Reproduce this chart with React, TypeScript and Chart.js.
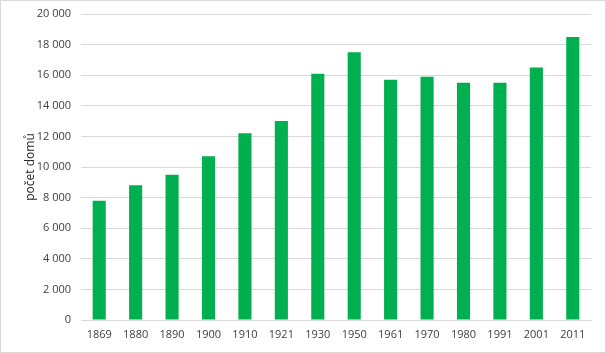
import React, { useEffect, useRef } from "react";
import { Chart, registerables } from "chart.js";

Chart.register(...registerables);

const categories = ["1869", "1880", "1890", "1900", "1910", "1921", "1930", "1950", "1961", "1970", "1980", "1991", "2001", "2011"];
const houses = [7800, 8800, 9500, 10700, 12200, 13000, 16100, 17500, 15700, 15900, 15500, 15500, 16500, 18500];
const yAxisTitle = "počet domů";

const fmt = (v: number) => String(v).replace(/\B(?=(\d{3})+(?!\d))/g, " ");

export default function App() {
  const ref = useRef<HTMLCanvasElement | null>(null);
  useEffect(() => {
    document.body.style.margin = "0";
    const ctx = ref.current!.getContext("2d")!;
    const font = { family: "'Open Sans', 'Noto Sans', sans-serif", size: 11 };
    const chart = new Chart(ctx, {
      type: "bar",
      data: {
        labels: categories,
        datasets: [
          {
            data: houses,
            backgroundColor: "#00b050",
            borderWidth: 0,
            categoryPercentage: 1,
            barPercentage: 0.36,
          },
        ],
      },
      options: {
        animation: false,
        responsive: false,
        maintainAspectRatio: false,
        layout: { padding: { left: 0, right: 14, top: 13, bottom: 0 } },
        plugins: { legend: { display: false }, tooltip: { enabled: false } },
        scales: {
          x: {
            grid: { display: false, drawTicks: false },
            border: { display: true, color: "#d9d9d9" },
            ticks: { color: "#404040", font, padding: 8, maxRotation: 0 },
            afterFit: (s: any) => {
              s.height = 32;
            },
          },
          y: {
            min: 0,
            max: 20000,
            ticks: { stepSize: 2000, color: "#404040", font, padding: 10, callback: (v: any) => fmt(Number(v)) },
            grid: { color: "#d9d9d9", drawTicks: false },
            border: { display: false },
            title: { display: true, text: yAxisTitle, color: "#262626", font: { ...font, size: 12 }, padding: { top: 22, bottom: 0 } },
            afterFit: (s: any) => {
              s.width = 80;
              s.paddingTop = 0;
              s.paddingBottom = 0;
            },
          },
        },
      },
    });
    return () => chart.destroy();
  }, []);
  return (
    <div
      style={{
        position: "fixed",
        left: 0,
        top: 0,
        width: 606,
        height: 353,
        boxSizing: "border-box",
        border: "1px solid #d9d9d9",
        background: "#fff",
      }}
    >
      <canvas ref={ref} width={604} height={351} style={{ display: "block" }} />
    </div>
  );
}
